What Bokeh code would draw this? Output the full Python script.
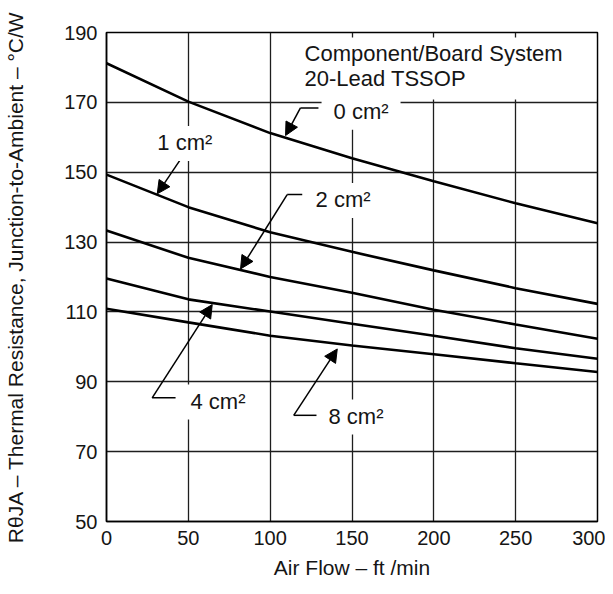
from bokeh.plotting import figure
from bokeh.models import Range1d, FixedTicker, Label, Arrow, NormalHead, BoxAnnotation
from bokeh.embed import file_html
from bokeh.resources import INLINE

# ---- data ----
airflow = [0, 50, 100, 150, 200, 250, 300]
r_0cm2 = [181.2, 170.2, 161.2, 154.0, 147.4, 141.1, 135.4]
r_1cm2 = [149.3, 140.0, 132.8, 127.2, 121.9, 116.8, 112.3]
r_2cm2 = [133.3, 125.5, 120.0, 115.5, 110.6, 106.4, 102.3]
r_4cm2 = [119.6, 113.6, 110.1, 106.6, 103.2, 99.6, 96.6]
r_8cm2 = [110.9, 107.0, 103.2, 100.4, 97.9, 95.3, 92.8]
series = [r_0cm2, r_1cm2, r_2cm2, r_4cm2, r_8cm2]

x_ticks = [0, 50, 100, 150, 200, 250, 300]
y_ticks = [50, 70, 90, 110, 130, 150, 170, 190]

# curve labels and leader lines (data coordinates)
label_text = ["0 cm²", "1 cm²", "2 cm²", "4 cm²", "8 cm²"]
label_x = [131.4, 23.7, 120.4, 44.0, 128.3]
label_y = [167.2, 158.2, 141.9, 84.2, 79.9]
stub_x0 = [129.5, None, 119.6, 42.2, 128.7]
arrow_x0 = [118.5, 44.8, 110.4, 27.9, 114.4]
arrow_y0 = [168.4, 153.4, 143.6, 85.4, 80.4]
arrow_x1 = [109.4, 31.0, 81.9, 64.6, 141.0]
arrow_y1 = [160.5, 143.8, 122.3, 112.1, 99.4]

box_lines = ["Component/Board System", "20-Lead TSSOP"]
box_line_y = [184.0, 176.8]

FONT = "Liberation Sans"
TXT = "#151515"

p = figure(width=605, height=586, output_backend="svg", toolbar_location=None,
           x_range=Range1d(0, 300), y_range=Range1d(50, 190),
           min_border_left=106, min_border_right=8, min_border_top=32,
           min_border_bottom=65)
p.background_fill_color = "white"
p.border_fill_color = "white"
p.outline_line_color = "black"
p.outline_line_width = 1.5

for g in (p.xgrid, p.ygrid):
    g.grid_line_color = "#1e1e1e"
    g.grid_line_width = 1.3

p.xaxis.ticker = FixedTicker(ticks=x_ticks)
p.yaxis.ticker = FixedTicker(ticks=y_ticks)
for ax in (p.xaxis, p.yaxis):
    ax.major_tick_out = 0
    ax.major_tick_in = 0
    ax.minor_tick_out = 0
    ax.minor_tick_in = 0
    ax.axis_line_color = "black"
    ax.axis_line_width = 1.5
    ax.major_label_text_font = FONT
    ax.major_label_text_font_size = "20px"
    ax.major_label_text_color = TXT
    ax.axis_label_text_font = FONT
    ax.axis_label_text_font_style = "normal"
    ax.axis_label_text_color = TXT

p.xaxis.major_label_standoff = 9
p.yaxis.major_label_standoff = 9
p.xaxis.axis_label = "Air Flow – ft /min"
p.xaxis.axis_label_text_font_size = "21px"
p.xaxis.axis_label_standoff = 8
p.yaxis.axis_label = "RθJA – Thermal Resistance, Junction-to-Ambient – °C/W"
p.yaxis.axis_label_text_font_size = "21px"
p.yaxis.axis_label_standoff = 34

for s in series:
    p.line(airflow, s, line_color="black", line_width=2.6)

# leader stubs and arrows
for i in range(len(label_text)):
    if stub_x0[i] is not None:
        p.line([stub_x0[i], arrow_x0[i]], [arrow_y0[i], arrow_y0[i]],
               line_color="black", line_width=1.5)
    p.add_layout(Arrow(x_start=arrow_x0[i], y_start=arrow_y0[i],
                       x_end=arrow_x1[i], y_end=arrow_y1[i],
                       line_color="black", line_width=1.5,
                       end=NormalHead(size=13, fill_color="black",
                                      line_color="black", line_width=1)))

# white area behind the system description
p.add_layout(BoxAnnotation(left=118.5, right=299.2, bottom=170.8, top=188.6,
                           fill_color="white", fill_alpha=1.0, line_alpha=0))
for k, t in enumerate(box_lines):
    p.add_layout(Label(x=121, y=box_line_y[k], text=t, text_font=FONT,
                       text_font_size="22px", text_color=TXT,
                       text_baseline="middle", text_align="left"))

for i, t in enumerate(label_text):
    p.add_layout(Label(x=label_x[i], y=label_y[i], text=t, text_font=FONT,
                       text_font_size="22px", text_color=TXT,
                       text_baseline="middle", text_align="left",
                       background_fill_color="white",
                       padding=dict(left=12, right=12, top=4, bottom=6)))

open("out.html", "w").write(file_html(p, INLINE))
